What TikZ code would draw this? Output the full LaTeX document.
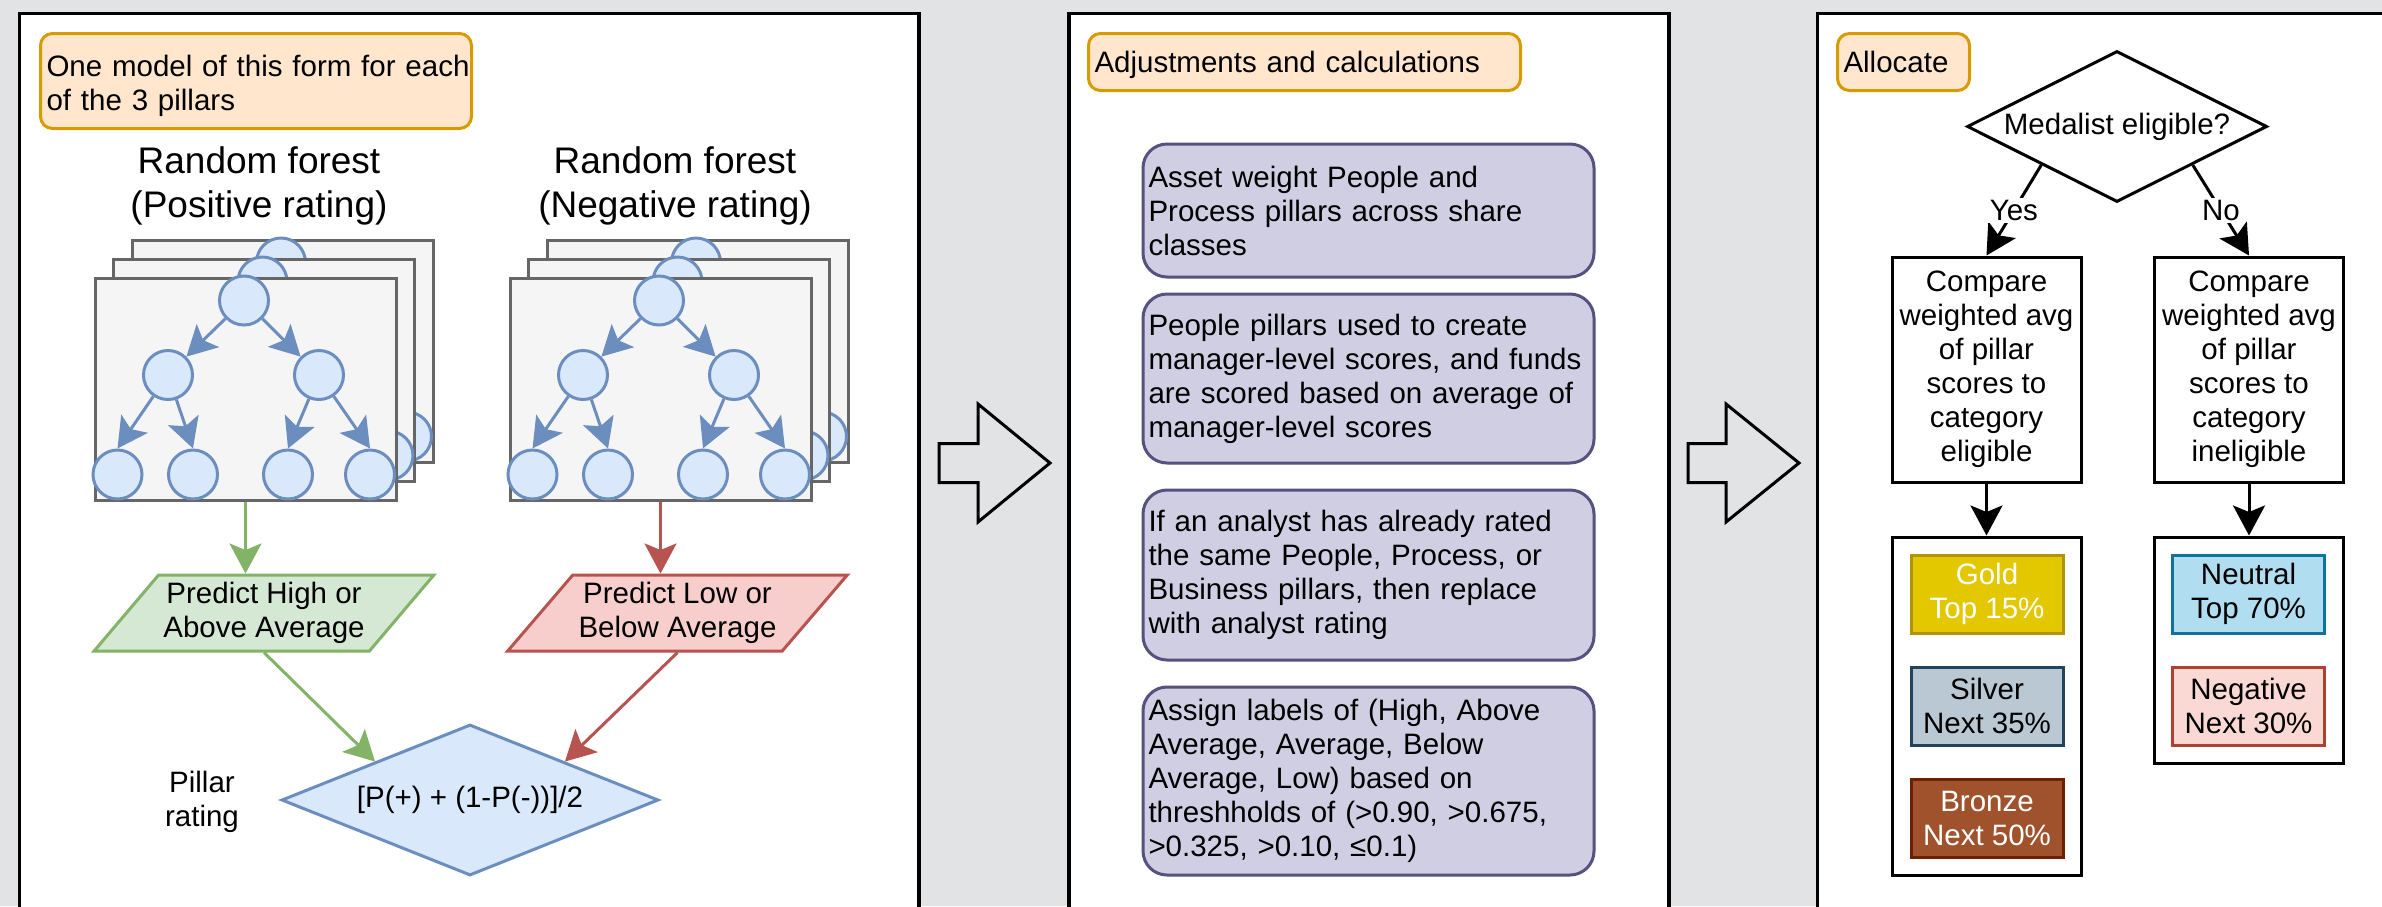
\documentclass[tikz,border=0pt]{standalone}
\usepackage{fontspec}
\setmainfont{Liberation Sans}
\usetikzlibrary{shapes.geometric,arrows.meta}
\definecolor{bg}{HTML}{E2E3E5}
\definecolor{noteF}{HTML}{FFE6CC}
\definecolor{noteB}{HTML}{D79B00}
\definecolor{purF}{HTML}{D0CEE2}
\definecolor{purB}{HTML}{56517E}
\definecolor{bluF}{HTML}{DAE8FC}
\definecolor{bluB}{HTML}{6C8EBF}
\definecolor{grnF}{HTML}{D5E8D4}
\definecolor{grnB}{HTML}{82B366}
\definecolor{redF}{HTML}{F8CECC}
\definecolor{redB}{HTML}{B85450}
\definecolor{cardF}{HTML}{F5F5F5}
\definecolor{cardB}{HTML}{666666}
\definecolor{goldF}{HTML}{E3C800}
\definecolor{goldB}{HTML}{B09500}
\definecolor{silF}{HTML}{BAC8D3}
\definecolor{silB}{HTML}{23445D}
\definecolor{brzF}{HTML}{A0522D}
\definecolor{brzB}{HTML}{6D1F00}
\definecolor{neuF}{HTML}{B1DDF0}
\definecolor{neuB}{HTML}{10739E}
\definecolor{negF}{HTML}{FAD9D5}
\definecolor{negB}{HTML}{AE4132}
\newcommand\bodyfs{\fontsize{29.5pt}{34pt}\selectfont}
\newcommand\titlefs{\fontsize{37pt}{44pt}\selectfont}
\newcommand\ml[1]{\mbox{#1}}
\tikzset{
  every node/.style={font=\bodyfs},
  panel/.style={draw=black, line width=3.5pt, fill=white},
  note/.style={draw=noteB, fill=noteF, line width=3pt, rounded corners=12pt, align=left, anchor=north west, inner ysep=0pt},
  card/.style={draw=cardB, fill=cardF, line width=3pt, anchor=north west, minimum width=301pt, minimum height=222pt, inner sep=0pt},
  circ/.style={circle, draw=bluB, fill=bluF, line width=3pt, minimum size=49pt, inner sep=0pt},
  headtip/.style={-{Stealth[length=30pt,width=32pt,inset=6.5pt]}},
  tarrow/.style={draw=bluB, line width=3pt, headtip},
  garrow/.style={draw=grnB, line width=3pt, headtip},
  rarrow/.style={draw=redB, line width=3pt, headtip},
  barrow/.style={draw=black, line width=3pt, headtip},
  para/.style={trapezium, trapezium left angle=45, trapezium right angle=135, trapezium stretches=true, minimum width=340pt, minimum height=76pt, line width=3pt, align=center, inner sep=0pt},
  pbox/.style={draw=purB, fill=purF, line width=3pt, rounded corners=24pt, text width=440pt, inner xsep=5.5pt, inner ysep=0pt, align=left},
  bbox/.style={draw=black, line width=3pt, fill=white, align=center, inner sep=0pt},
  medal/.style={line width=3pt, minimum width=152pt, minimum height=78pt, align=center, inner sep=0pt},
  lbl/.style={fill=white, inner sep=2pt},
  bigarr/.style={draw=black, line width=3pt, line join=miter},
  plain/.style={align=center, inner sep=0pt}
}
\newcommand\drawtree[3]{%
\begin{scope}[shift={(#2,#3)}]
\node[card] (#1c) at (1.5,1.5) {};
\node[circ] (#1r) at (152,25.5) {};
\node[circ] (#1a) at (76,100) {};
\node[circ] (#1b) at (227,100) {};
\node[circ] (#1d) at (25.5,199.5) {};
\node[circ] (#1e) at (101,199.5) {};
\node[circ] (#1f) at (196,199.5) {};
\node[circ] (#1g) at (278,199.5) {};
\draw[tarrow] (#1r) -- (#1a.north east);
\draw[tarrow] (#1r) -- (#1b.north west);
\draw[tarrow] (#1a) -- (#1d.north);
\draw[tarrow] (#1a) -- (#1e.north);
\draw[tarrow] (#1b) -- (#1f.north);
\draw[tarrow] (#1b) -- (#1g.north);
\end{scope}}
\begin{document}
\begin{tikzpicture}[x=1pt,y=-1pt]
\useasboundingbox (0,0) rectangle (2382,906);
\fill[bg] (0,0) rectangle (2382,906);
\clip (0,0) rectangle (2382,906);
% panels
\draw[panel] (19.5,13.5) rectangle (919,960);
\draw[panel] (1069,13.5) rectangle (1669,960);
\draw[panel] (1817.5,13.5) rectangle (2450,960);
% big arrows
\draw[bigarr] (939,443.5) -- (978,443.5) -- (978,404) -- (1050,463) -- (978,522) -- (978,482.5) -- (939,482.5) -- cycle;
\draw[bigarr] (1688,443.5) -- (1726,443.5) -- (1726,404) -- (1799,463) -- (1726,522) -- (1726,482.5) -- (1688,482.5) -- cycle;
% ---------- panel 1
\node[note, text width=419pt, inner xsep=6pt, minimum height=95pt] (n1) at (39,32) {\rule{0pt}{31pt}\ml{One model of this form for each}\\\ml{of the 3 pillars}};
\node[plain, font=\titlefs] (tpos) at (259,186) {Random forest\\(Positive rating)};
\node[plain, font=\titlefs] (tneg) at (675,186) {Random forest\\(Negative rating)};
\drawtree{pb}{129}{237}
\drawtree{pm}{110.5}{256}
\drawtree{pf}{92}{275}
\drawtree{nb}{544}{237}
\drawtree{nm}{525.5}{256}
\drawtree{nf}{507}{275}
\node[para, draw=grnB, fill=grnF] (gp) at (264,613) {Predict High or\\Above Average};
\node[para, draw=redB, fill=redF] (rp) at (677.5,613) {Predict Low or\\Below Average};
\node[diamond, draw=bluB, fill=bluF, line width=3pt, minimum width=377pt, minimum height=151pt, shape aspect=2.5, inner sep=0pt] (pr) at (470,800) {[P(+) + (1-P(-))]/2};
\node[plain] (pl) at (202,802) {Pillar\\rating};
\draw[garrow] (pfc.south) -- (pfc.south |- gp.north);
\draw[rarrow] (nfc.south) -- (nfc.south |- rp.north);
\draw[garrow] (gp.south) -- (pr.north west);
\draw[rarrow] (rp.south) -- (pr.north east);
% ---------- panel 2
\node[note, text width=420pt, inner xsep=6pt, minimum height=57pt] (n2) at (1087,32) {\rule{0pt}{27.5pt}Adjustments and calculations};
\node[pbox, minimum height=133pt] (b1) at (1368.5,210.5) {\ml{Asset weight People and}\\\ml{Process pillars across share}\\\ml{classes}};
\node[pbox, minimum height=169pt] (b2) at (1368.5,378.5) {\ml{People pillars used to create}\\\ml{manager-level scores, and funds}\\\ml{are scored based on average of}\\\ml{manager-level scores}};
\node[pbox, minimum height=170pt] (b3) at (1368.5,575) {\ml{If an analyst has already rated}\\\ml{the same People, Process, or}\\\ml{Business pillars, then replace}\\\ml{with analyst rating}};
\node[pbox, minimum height=188pt] (b4) at (1368.5,781) {\ml{Assign labels of (High, Above}\\\ml{Average, Average, Below}\\\ml{Average, Low) based on}\\\ml{threshholds of (>0.90, >0.675,}\\\ml{>0.325, >0.10, ≤0.1)}};
% ---------- panel 3
\node[note, text width=120pt, inner xsep=6pt, minimum height=57pt] (n3) at (1836,32) {Allocate};
\node[diamond, draw=black, fill=white, line width=3pt, minimum width=300pt, minimum height=151pt, shape aspect=2, inner sep=0pt] (med) at (2117,126.5) {Medalist eligible?};
\node[bbox, minimum width=189pt, minimum height=225pt] (ce) at (1986.5,369.5) {Compare\\weighted avg\\of pillar\\scores to\\category\\eligible};
\node[bbox, minimum width=189pt, minimum height=225pt] (ci) at (2249,369.5) {Compare\\weighted avg\\of pillar\\scores to\\category\\ineligible};
\node[bbox, minimum width=189pt, minimum height=338pt] (ke) at (1986.5,706) {};
\node[bbox, minimum width=189pt, minimum height=226pt] (ki) at (2249,650) {};
\node[medal, draw=goldB, fill=goldF, text=white] (gold) at (1987,594) {Gold\\Top 15\%};
\node[medal, draw=silB, fill=silF] (silver) at (1987,706) {Silver\\Next 35\%};
\node[medal, draw=brzB, fill=brzF, text=white] (bronze) at (1987,818.5) {Bronze\\Next 50\%};
\node[medal, draw=neuB, fill=neuF] (neutral) at (2248.5,594) {Neutral\\Top 70\%};
\node[medal, draw=negB, fill=negF] (negative) at (2248.5,706) {Negative\\Next 30\%};
\draw[barrow] (med.south west) -- node[lbl] (yes) {Yes} (ce.north);
\draw[barrow] (med.south east) -- node[lbl] (no) {No} (ci.north);
\draw[barrow] (ce.south) -- (ke.north);
\draw[barrow] (ci.south) -- (ki.north);
\end{tikzpicture}
\end{document}
